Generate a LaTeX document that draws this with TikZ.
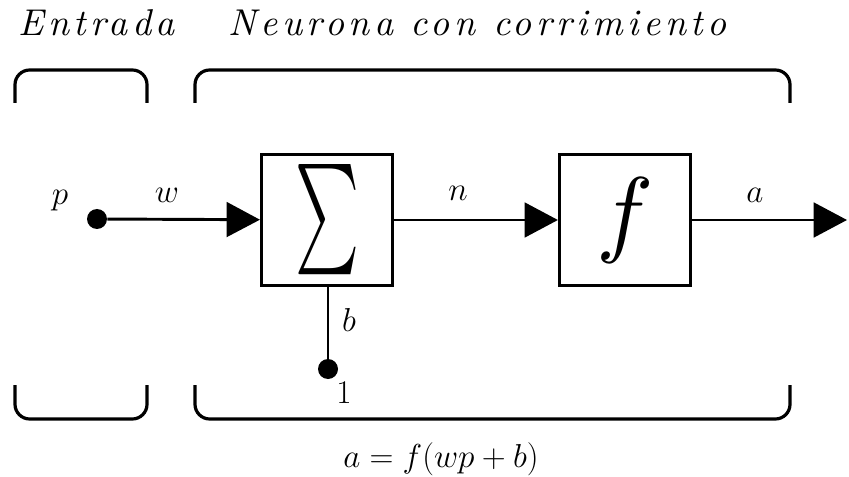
\documentclass[tikz,border=0pt]{standalone}
\usepackage{fontspec}
\usepackage{graphicx}
\usetikzlibrary{arrows.meta,positioning}

\newfontfamily\ttlfont{lmroman10-italic}[Extension=.otf, LetterSpace=12]

\tikzset{
  blk/.style={draw, line width=2.6pt, minimum width=98pt, minimum height=98pt, inner sep=0pt},
  sig/.style={line width=2.2pt, -{Triangle[length=25pt,width=26pt]}},
  brk/.style={line width=2.4pt, rounded corners=11pt},
  dot/.style={circle, fill, inner sep=0pt, minimum size=15pt},
  lbl/.style={font=\fontsize{31}{31}\selectfont},
  ttl/.style={font=\fontsize{28}{28}\ttlfont, inner sep=0pt}
}

\begin{document}
\begin{tikzpicture}[x=0.75pt,y=0.75pt,yscale=-1,xscale=1]
\useasboundingbox (0,0) rectangle (849,477);

% titles
\node[ttl, anchor=base west] (tin) at (18,36) {Entrada};
\node[ttl, anchor=base west] (tneu) at (228,36) {Neurona con corrimiento};

% brackets
\draw[brk] (15,103) -- (15,70) -- (147,70) -- (147,103);
\draw[brk] (195,103) -- (195,70) -- (790,70) -- (790,103);
\draw[brk] (15,385) -- (15,419) -- (147,419) -- (147,385);
\draw[brk] (195,385) -- (195,419) -- (790,419) -- (790,385);

% blocks
\node[blk] (sum) at (327,220) {\resizebox{48pt}{62pt}{$\sum$}};
\node[blk] (f) at (625,220) {\resizebox{43pt}{50pt}{$f$}};

% input, bias and output
\node[dot] (in) at (97,219) {};
\node[dot] (bias) at (328,369) {};
\coordinate (out) at (847,220);

\draw[sig] (in) -- (sum);
\draw[sig] (sum) -- (f);
\draw[sig] (f) -- (out);
\draw[line width=2.2pt] (bias) -- (bias |- sum.south);

% labels
\node[lbl, anchor=base] (lp) at (60,205) {$p$};
\node[lbl, anchor=base] (lw) at (167,203) {$w$};
\node[lbl, anchor=base] (ln) at (458,201) {$n$};
\node[lbl, anchor=base] (la) at (755,203) {$a$};
\node[lbl, anchor=base] (lb) at (349,331) {$b$};
\node[lbl, anchor=base] (l1) at (344,403) {$1$};
\node[lbl, anchor=base, font=\fontsize{28}{28}\selectfont] (eq) at (441,467) {$a=f(wp+b)$};

\end{tikzpicture}
\end{document}
